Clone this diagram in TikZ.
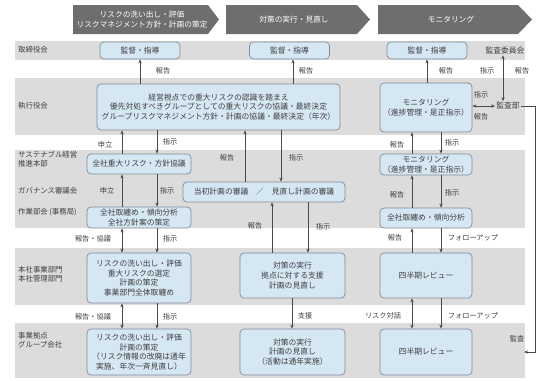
\documentclass[tikz,border=0pt]{standalone}
\usepackage{fontspec}
\setmainfont{Noto Sans CJK JP}
\usetikzlibrary{arrows.meta,calc}
\definecolor{bandc}{HTML}{DCDCDC}
\definecolor{boxfill}{HTML}{D6E7F4}
\definecolor{boxline}{HTML}{7F8C99}
\definecolor{chev}{HTML}{6E6E6E}
\definecolor{txt}{HTML}{3F3F3F}
\definecolor{ln}{HTML}{4A4A4A}
\begin{document}
\begin{tikzpicture}[x=1pt,y=-1pt,
  font=\fontsize{7.8}{9.6}\selectfont, text=txt,
  bx/.style={draw=boxline, fill=boxfill, rounded corners=4pt, line width=0.7pt, align=center, inner sep=1pt},
  lab/.style={font=\fontsize{7.2}{9}\selectfont, inner sep=0pt},
  rowlab/.style={anchor=west, align=left, font=\fontsize{7.4}{8.6}\selectfont, inner sep=0pt},
  chevtext/.style={text=white, align=center, font=\fontsize{7.7}{9.4}\selectfont, inner sep=0pt},
  arr/.style={draw=ln, line width=0.6pt, -{Stealth[length=4pt,width=3.2pt]}},
  darr/.style={draw=ln, line width=0.6pt, {Stealth[length=4pt,width=3.2pt]}-{Stealth[length=4pt,width=3.2pt]}},
  ln/.style={draw=ln, line width=0.6pt}
  ]
\useasboundingbox (0,0) rectangle (540,380);

% header chevrons
\fill[chev] (73,5) -- (208,5) -- (219,19.5) -- (208,34) -- (73,34) -- cycle;
\fill[chev] (226,5) -- (357,5) -- (370,19.5) -- (357,34) -- (226,34) -- cycle;
\fill[chev] (378,5) -- (518,5) -- (532,19.5) -- (518,34) -- (378,34) -- cycle;
\node[chevtext] (h1) at (142,19.5) {リスクの洗い出し・評価\\リスクマネジメント方針・計画の策定};
\node[chevtext] (h2) at (294,19.5) {対策の実行・見直し};
\node[chevtext] (h3) at (451,19.5) {モニタリング};

% bands
\fill[bandc] (15,41) rectangle (525,60);
\fill[bandc] (15,78) rectangle (525,135);
\fill[bandc] (15,150) rectangle (525,228);
\fill[bandc] (15,248) rectangle (525,305);
\fill[bandc] (15,323) rectangle (525,378);

% row labels
\node[rowlab] (r1) at (18,50) {取締役会};
\node[rowlab] (r2) at (18,106) {執行役会};
\node[rowlab] (r3) at (18,159) {サステナブル経営\\推進本部};
\node[rowlab] (r4) at (18,191) {ガバナンス審議会};
\node[rowlab] (r5) at (18,212) {作業部会 (事務局)};
\node[rowlab] (r6) at (18,274) {本社事業部門\\本社管理部門};
\node[rowlab] (r7) at (18,340) {事業拠点\\グループ会社};

% boxes
\node[bx, minimum width=80pt, minimum height=17pt] (kan1) at (140,50.5) {監督・指導};
\node[bx, minimum width=80pt, minimum height=17pt] (kan2) at (289.5,50.5) {監督・指導};
\node[bx, minimum width=80pt, minimum height=17pt] (kan3) at (427,50.5) {監督・指導};
\node[inner sep=1pt] (iinkai) at (505,50.5) {監査委員会};

\node[bx, minimum width=243pt, minimum height=46pt] (exec) at (218.5,107)
  {経営視点での重大リスクの認識を踏まえ\\優先対処すべきグループとしての重大リスクの協議・最終決定\\グループリスクマネジメント方針・計画の協議・最終決定（年次）};
\node[bx, minimum width=92pt, minimum height=49pt] (mon1) at (426,107.5) {モニタリング\\（進捗管理・是正指示）};
\node[inner sep=1pt] (kansabu) at (508,106) {監査部};

\node[bx, minimum width=104pt, minimum height=20pt] (zen1) at (139,164) {全社重大リスク・方針協議};
\node[bx, minimum width=92pt, minimum height=21pt] (mon2) at (426,164.5) {モニタリング\\（進捗管理・是正指示）};
\node[bx, minimum width=162pt, minimum height=20pt] (tosho) at (264,192) {当初計画の審議\quad ／\quad 見直し計画の審議};
\node[bx, minimum width=104pt, minimum height=21pt] (zen2) at (139,217.5) {全社取纏め・傾向分析\\全社方針案の策定};
\node[bx, minimum width=92pt, minimum height=20pt] (zen3) at (426,218) {全社取纏め・傾向分析};

\node[bx, minimum width=104pt, minimum height=50pt] (hon1) at (139,278) {リスクの洗い出し・評価\\重大リスクの選定\\計画の策定\\事業部門全体取纏め};
\node[bx, minimum width=105pt, minimum height=45pt] (hon2) at (292.5,275.5) {対策の実行\\拠点に対する支援\\計画の見直し};
\node[bx, minimum width=92pt, minimum height=45pt] (hon3) at (426,275.5) {四半期レビュー};

\node[bx, minimum width=104pt, minimum height=46pt] (jig1) at (139,352) {リスクの洗い出し・評価\\計画の策定\\（リスク情報の改廃は通年\\実施、年次一斉見直し）};
\node[bx, minimum width=105pt, minimum height=46pt] (jig2) at (292.5,352) {対策の実行\\計画の見直し\\（活動は通年実施）};
\node[bx, minimum width=92pt, minimum height=46pt] (jig3) at (426,352) {四半期レビュー};

% column coordinates
\coordinate (cA) at (122,0);
\coordinate (cB) at (157,0);
\coordinate (cC) at (245,0);
\coordinate (cD) at (281,0);
\coordinate (cE) at (272,0);
\coordinate (cF) at (308,0);
\coordinate (cG) at (412,0);
\coordinate (cH) at (441,0);
\coordinate (cI) at (140,0);
\coordinate (cJ) at (293,0);
\coordinate (cK) at (427,0);
\coordinate (cL) at (503,0);
\coordinate (cM) at (292,0);
\coordinate (cR) at (535,0);
\coordinate (kend) at (524,352);

% arrows to board
\draw[arr] (exec.north -| cI) -- (kan1.south -| cI);
\draw[arr] (exec.north -| cJ) -- (kan2.south -| cJ);
\draw[arr] (mon1.north -| cK) -- (kan3.south -| cK);
\draw[darr] (iinkai.south -| cL) -- (kansabu.north -| cL);
\draw[darr] (mon1.east |- kansabu.west) -- (kansabu.west);
\draw[arr] (kansabu.east) -| (kend -| cR) -- (kend);

% left column
\draw[arr] (zen1.north -| cA) -- (exec.south -| cA);
\draw[arr] (exec.south -| cB) -- (zen1.north -| cB);
\draw[arr] (zen2.north -| cA) -- (zen1.south -| cA);
\draw[arr] (zen1.south -| cB) -- (zen2.north -| cB);
\draw[darr] (zen2.south -| cA) -- (hon1.north -| cA);
\draw[arr] (zen2.south -| cB) -- (hon1.north -| cB);
\draw[darr] (hon1.south -| cA) -- (jig1.north -| cA);
\draw[arr] (hon1.south -| cB) -- (jig1.north -| cB);

% middle column
\draw[arr] (tosho.north -| cC) -- (exec.south -| cC);
\draw[arr] (exec.south -| cD) -- (tosho.north -| cD);
\draw[arr] (hon2.north -| cE) -- (tosho.south -| cE);
\draw[arr] (tosho.south -| cF) -- (hon2.north -| cF);
\draw[arr] (hon2.south -| cM) -- (jig2.north -| cM);

% right column
\draw[arr] (mon2.north -| cG) -- (mon1.south -| cG);
\draw[arr] (mon1.south -| cH) -- (mon2.north -| cH);
\draw[arr] (zen3.north -| cG) -- (mon2.south -| cG);
\draw[arr] (mon2.south -| cH) -- (zen3.north -| cH);
\draw[arr] (hon3.north -| cG) -- (zen3.south -| cG);
\draw[arr] (zen3.south -| cH) -- (hon3.north -| cH);
\draw[darr] (hon3.south -| cG) -- (jig3.north -| cG);
\draw[arr] (hon3.south -| cH) -- (jig3.north -| cH);

% labels
\node[lab] (l1) at (163,71) {報告};
\node[lab] (l2) at (306,71) {報告};
\node[lab] (l3) at (446,71) {報告};
\node[lab] (l4) at (487,71) {指示};
\node[lab] (l5) at (522,71) {報告};
\node[lab] (l6) at (481,95) {指示};
\node[lab] (l7) at (481,117) {報告};
\node[lab] (l8) at (105,145) {申立};
\node[lab] (l9) at (170,142) {指示};
\node[lab] (l10) at (227,158) {報告};
\node[lab] (l11) at (296,158) {指示};
\node[lab] (l12) at (397,145) {報告};
\node[lab] (l13) at (452,143) {指示};
\node[lab] (l14) at (107,191) {申立};
\node[lab] (l15) at (167,191) {指示};
\node[lab] (l16) at (397,195) {報告};
\node[lab] (l17) at (452,193) {指示};
\node[lab] (l18) at (255,226) {報告};
\node[lab] (l19) at (323,227) {指示};
\node[lab] (l20) at (93,239) {報告・協議};
\node[lab] (l21) at (170,239) {指示};
\node[lab] (l22) at (395,238) {報告};
\node[lab] (l23) at (473,238) {フォローアップ};
\node[lab] (l24) at (93,317) {報告・協議};
\node[lab] (l25) at (170,317) {指示};
\node[lab] (l26) at (305,316) {支援};
\node[lab] (l27) at (383,316) {リスク対話};
\node[lab] (l28) at (473,316) {フォローアップ};
\node[lab] (l29) at (517,339) {監査};
\end{tikzpicture}
\end{document}
